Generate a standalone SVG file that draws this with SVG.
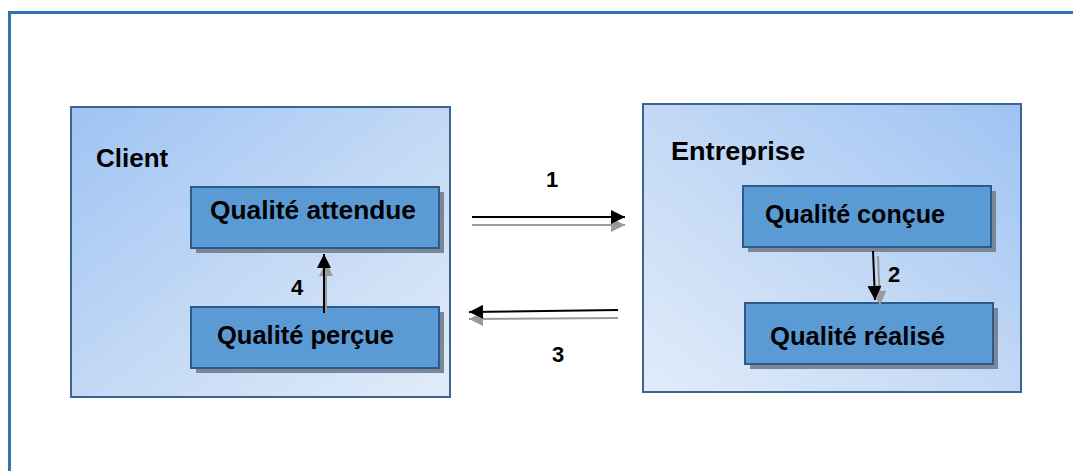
<svg xmlns="http://www.w3.org/2000/svg" width="1073" height="471" viewBox="0 0 1073 471">
  <defs>
    <linearGradient id="gradClient" x1="0" y1="0" x2="1" y2="1">
      <stop offset="0" stop-color="#9ec3f3"/>
      <stop offset="0.5" stop-color="#c2d8f5"/>
      <stop offset="1" stop-color="#e1ecf9"/>
    </linearGradient>
    <linearGradient id="gradEntreprise" x1="1" y1="0" x2="0" y2="1">
      <stop offset="0" stop-color="#9ec3f3"/>
      <stop offset="0.5" stop-color="#c2d8f5"/>
      <stop offset="1" stop-color="#e1ecf9"/>
    </linearGradient>
    <marker id="head" viewBox="0 0 10 10" refX="10" refY="5" markerWidth="15" markerHeight="14" markerUnits="userSpaceOnUse" orient="auto">
      <path d="M0,0 L10,5 L0,10 Z" fill="#000"/>
    </marker>
    <marker id="headShadow" viewBox="0 0 10 10" refX="10" refY="5" markerWidth="15" markerHeight="14" markerUnits="userSpaceOnUse" orient="auto">
      <path d="M0,0 L10,5 L0,10 Z" fill="#9a9a9a"/>
    </marker>
  </defs>
  <style>
    .frame { fill: none; stroke: #2e75b6; stroke-width: 3; }
    .group { stroke: #3d6593; stroke-width: 2; }
    .box { fill: #5b9bd5; stroke: #2d5a88; stroke-width: 2; }
    .shadow { fill: #7b8696; }
    .title { font-family: "Liberation Sans", Arial, sans-serif; font-weight: bold; font-size: 26px; fill: #000; }
    .label { font-family: "Liberation Sans", Arial, sans-serif; font-weight: bold; font-size: 25px; fill: #000; }
    .num { font-family: "Liberation Sans", Arial, sans-serif; font-weight: bold; font-size: 22px; fill: #000; }
    .wire { stroke: #000; stroke-width: 2; fill: none; marker-end: url(#head); }
    .wireShadow { stroke: #9a9a9a; stroke-width: 2; fill: none; marker-end: url(#headShadow); }
  </style>

  <rect class="frame" x="9.5" y="12.5" width="1080" height="480"/>

  <g id="client">
    <rect class="group" x="71" y="107" width="379" height="290" fill="url(#gradClient)"/>
    <text class="title" x="96" y="167">Client</text>
  </g>

  <g id="qualite-attendue">
    <rect class="shadow" x="196" y="192" width="248" height="61"/>
    <rect class="box" x="191" y="187" width="248" height="61"/>
    <text class="label" x="210" y="219" textLength="206" lengthAdjust="spacingAndGlyphs">Qualité attendue</text>
  </g>

  <g id="qualite-percue">
    <rect class="shadow" x="196" y="312" width="248" height="61"/>
    <rect class="box" x="191" y="307" width="248" height="61"/>
    <text class="label" x="217" y="344" textLength="177" lengthAdjust="spacingAndGlyphs">Qualité perçue</text>
  </g>

  <g id="entreprise">
    <rect class="group" x="643" y="104" width="378" height="288" fill="url(#gradEntreprise)"/>
    <text class="title" x="671" y="160" textLength="134" lengthAdjust="spacingAndGlyphs">Entreprise</text>
  </g>

  <g id="qualite-concue">
    <rect class="shadow" x="748" y="191" width="248" height="61"/>
    <rect class="box" x="743" y="186" width="248" height="61"/>
    <text class="label" x="765" y="223" textLength="180" lengthAdjust="spacingAndGlyphs">Qualité conçue</text>
  </g>

  <g id="qualite-realise">
    <rect class="shadow" x="750" y="308" width="248" height="61"/>
    <rect class="box" x="745" y="303" width="248" height="61"/>
    <text class="label" x="770" y="345" textLength="175" lengthAdjust="spacingAndGlyphs">Qualité réalisé</text>
  </g>

  <g id="connectors">
    <!-- 1: client to entreprise -->
    <line class="wireShadow" x1="472" y1="225" x2="625" y2="225"/>
    <line class="wire" x1="472" y1="217" x2="625" y2="217"/>
    <text class="num" x="546" y="187">1</text>

    <!-- 2: designed quality to achieved quality -->
    <line class="wireShadow" x1="878" y1="256" x2="880" y2="305"/>
    <line class="wire" x1="873" y1="251" x2="875" y2="300"/>
    <text class="num" x="888" y="282">2</text>

    <!-- 3: entreprise back to client -->
    <line class="wireShadow" x1="618" y1="318" x2="469" y2="319"/>
    <line class="wire" x1="618" y1="310" x2="469" y2="312"/>
    <text class="num" x="552" y="362">3</text>

    <!-- 4: perceived to expected quality -->
    <line class="wireShadow" x1="326" y1="313" x2="326" y2="262"/>
    <line class="wire" x1="324" y1="313" x2="324" y2="254"/>
    <text class="num" x="291" y="295">4</text>
  </g>
</svg>
